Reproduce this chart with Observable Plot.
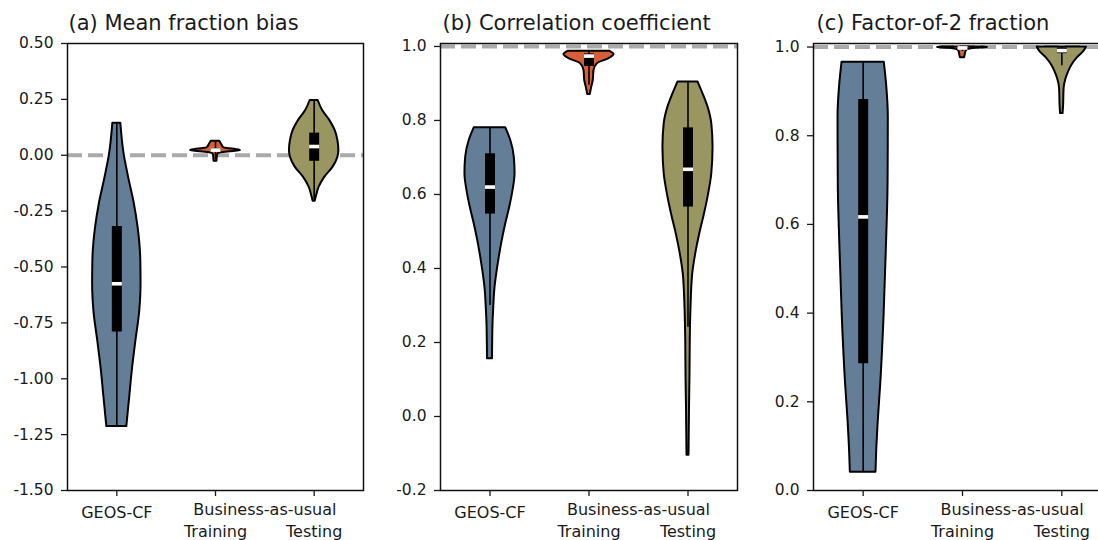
<!DOCTYPE html>
<html><head><meta charset="utf-8">
<script src="https://cdn.jsdelivr.net/npm/d3@7"></script>
<script src="https://cdn.jsdelivr.net/npm/@observablehq/plot@0.6"></script>
<style>
html,body{margin:0;padding:0;background:#fff;overflow:hidden;}
#wrap{position:relative;width:1098px;height:540px;overflow:hidden;}
#wrap svg{position:absolute;top:0;overflow:visible;}
</style></head><body><div id="wrap"></div>
<script>
// ---- categories / labels ----
const groups = ["GEOS-CF", "Training", "Testing"];
const groupLabel = "Business-as-usual";
const colors = ["#647e97", "#d65f3a", "#9a9662"];
const titles = ["(a) Mean fraction bias", "(b) Correlation coefficient", "(c) Factor-of-2 fraction"];

// ---- tick labels ----
const mfbTicks = [-1.5, -1.25, -1.0, -0.75, -0.5, -0.25, 0.0, 0.25, 0.5];
const corTicks = [-0.2, 0.0, 0.2, 0.4, 0.6, 0.8, 1.0];
const fac2Ticks = [0.0, 0.2, 0.4, 0.6, 0.8, 1.0];

// ---- (a) mean fraction bias: violin profiles (value, relative density) ----
const mfbGeosV = [-1.214, -1.067, -0.963, -0.843, -0.695, -0.575, -0.471, -0.322, -0.217, -0.098, 0.006, 0.143];
const mfbGeosD = [0.40, 0.53, 0.62, 0.75, 0.92, 0.97, 0.96, 0.85, 0.70, 0.47, 0.29, 0.16];
const mfbTrainV = [-0.027, -0.01, 0.0, 0.008, 0.013, 0.018, 0.021, 0.025, 0.03, 0.035, 0.044, 0.063];
const mfbTrainD = [0.06, 0.07, 0.08, 0.12, 0.40, 0.80, 1.0, 0.84, 0.48, 0.32, 0.27, 0.17];
const mfbTestV = [-0.206, -0.18, -0.143, -0.098, -0.053, -0.009, 0.021, 0.066, 0.111, 0.155, 0.200, 0.245];
const mfbTestD = [0.04, 0.10, 0.20, 0.43, 0.76, 0.95, 0.99, 0.95, 0.84, 0.63, 0.34, 0.16];
// box stats per group
const mfbQ1 = [-0.791, 0.017, -0.027];
const mfbMed = [-0.575, 0.023, 0.039];
const mfbQ3 = [-0.319, 0.029, 0.099];
const mfbLo = [-1.214, -0.02, -0.206];
const mfbHi = [0.143, 0.06, 0.245];

// ---- (b) correlation coefficient ----
const corGeosV = [0.156, 0.250, 0.295, 0.341, 0.386, 0.430, 0.476, 0.521, 0.566, 0.611, 0.656, 0.701, 0.746, 0.780];
const corGeosD = [0.10, 0.12, 0.15, 0.19, 0.27, 0.37, 0.49, 0.63, 0.79, 0.92, 1.0, 0.97, 0.83, 0.63];
const corTrainV = [0.870, 0.890, 0.908, 0.935, 0.953, 0.967, 0.978, 0.987];
const corTrainD = [0.05, 0.11, 0.17, 0.20, 0.33, 0.80, 1.0, 0.84];
const corTestV = [-0.105, 0.025, 0.115, 0.205, 0.295, 0.386, 0.440, 0.494, 0.539, 0.593, 0.656, 0.728, 0.791, 0.836, 0.872, 0.904];
const corTestD = [0.04, 0.06, 0.08, 0.09, 0.12, 0.19, 0.31, 0.47, 0.63, 0.80, 0.95, 1.0, 0.95, 0.80, 0.60, 0.40];
const corQ1 = [0.547, 0.946, 0.566];
const corMed = [0.620, 0.974, 0.668];
const corQ3 = [0.710, 0.980, 0.780];
const corLo = [0.300, 0.895, 0.241];
const corHi = [0.780, 0.987, 0.904];

// ---- (c) factor-of-2 fraction ----
const fac2GeosV = [0.041, 0.09, 0.165, 0.241, 0.391, 0.541, 0.692, 0.842, 0.917, 0.966];
const fac2GeosD = [0.51, 0.54, 0.61, 0.70, 0.83, 0.92, 0.99, 1.0, 0.93, 0.84];
const fac2TrainV = [0.976, 0.98, 0.99, 0.994, 0.997, 0.999, 1.0];
const fac2TrainD = [0.08, 0.10, 0.14, 0.20, 0.55, 1.0, 0.8];
const fac2TestV = [0.850, 0.869, 0.907, 0.929, 0.944, 0.959, 0.9745, 0.9895, 1.0];
const fac2TestD = [0.05, 0.07, 0.09, 0.17, 0.27, 0.40, 0.60, 0.87, 0.98];
const fac2Q1 = [0.286, 0.996, 0.985];
const fac2Med = [0.617, 0.998, 0.992];
const fac2Q3 = [0.882, 0.999, 0.998];
const fac2Lo = [0.041, 0.990, 0.958];
const fac2Hi = [0.966, 1.0, 1.0];

// ---- drawing ----
const FONT = "DejaVu Sans";
const HALF = 0.253; // max violin half-width in category units
const medianSymbol = { draw(ctx) { ctx.rect(-5, -1.8, 10, 3.6); } };

function panel(cfg) {
  const violins = cfg.profiles.map(([vs, ds], i) =>
    Plot.areaX(vs.map((v, k) => ({v, d: ds[k], pos: i})), {
      y: "v",
      x1: r => r.pos - r.d * HALF,
      x2: r => r.pos + r.d * HALF,
      fill: colors[i], stroke: "black", strokeWidth: 2,
      curve: "monotone-y"
    })
  );
  const stats = groups.map((g, i) => ({
    pos: i, q1: cfg.q1[i], med: cfg.med[i], q3: cfg.q3[i], lo: cfg.lo[i], hi: cfg.hi[i]
  }));
  return Plot.plot({
    width: cfg.width, height: 540,
    marginLeft: cfg.ml, marginRight: cfg.mr, marginTop: 43, marginBottom: 50,
    style: {fontFamily: FONT, color: "#1a1a1a", background: "transparent", overflow: "visible"},
    x: {domain: [-0.5, 2.5]},
    y: {domain: cfg.ydomain},
    marks: [
      Plot.ruleY([cfg.ref], {stroke: "#aaaaaa", strokeWidth: 4, strokeDasharray: "15,6"}),
      ...violins,
      Plot.ruleX(stats, {x: "pos", y1: "lo", y2: "hi", stroke: "black", strokeWidth: 1.6}),
      Plot.ruleX(stats, {x: "pos", y1: "q1", y2: "q3", stroke: "black", strokeWidth: 10}),
      Plot.dot(stats, {x: "pos", y: "med", symbol: medianSymbol, fill: "white", stroke: null}),
      Plot.frame({stroke: "#111", strokeWidth: 1.5}),
      Plot.axisY({ticks: cfg.ticks, tickSize: 6, tickPadding: 8, fontSize: 15.5,
        tickFormat: d => d.toFixed(cfg.digits), strokeWidth: 1.3}),
      Plot.axisX({ticks: [0, 1, 2], tickSize: 6, tickFormat: () => "", strokeWidth: 1.3, label: null}),
      Plot.text([groups[0]], {x: [0], text: d => d, frameAnchor: "bottom", lineAnchor: "middle", dy: 22, fontSize: 16}),
      Plot.text(groups.slice(1), {x: [1, 2], text: d => d, frameAnchor: "bottom", lineAnchor: "middle", dy: 41, fontSize: 16}),
      Plot.text([groupLabel], {x: [1.5], text: d => d, frameAnchor: "bottom", lineAnchor: "middle", dy: 19, fontSize: 16}),
      Plot.text([cfg.title], {frameAnchor: "top-left", textAnchor: "start", lineAnchor: "middle", dy: -20.5, dx: cfg.tdx, fontSize: 21})
    ]
  });
}

const wrap = document.getElementById("wrap");
const panels = [
  {left: 0, width: 370, ml: 67, mr: 7, ydomain: [-1.5, 0.5], ref: 0, ticks: mfbTicks, digits: 2, title: titles[0], tdx: 1,
   profiles: [[mfbGeosV, mfbGeosD], [mfbTrainV, mfbTrainD], [mfbTestV, mfbTestD]],
   q1: mfbQ1, med: mfbMed, q3: mfbQ3, lo: mfbLo, hi: mfbHi},
  {left: 370, width: 370, ml: 70, mr: 3, ydomain: [-0.2, 1.008], ref: 1, ticks: corTicks, digits: 1, title: titles[1], tdx: 2,
   profiles: [[corGeosV, corGeosD], [corTrainV, corTrainD], [corTestV, corTestD]],
   q1: corQ1, med: corMed, q3: corQ3, lo: corLo, hi: corHi},
  {left: 740, width: 371, ml: 73, mr: 0, ydomain: [0, 1.008], ref: 1, ticks: fac2Ticks, digits: 1, title: titles[2], tdx: 3,
   profiles: [[fac2GeosV, fac2GeosD], [fac2TrainV, fac2TrainD], [fac2TestV, fac2TestD]],
   q1: fac2Q1, med: fac2Med, q3: fac2Q3, lo: fac2Lo, hi: fac2Hi}
];
for (const p of panels) {
  const svg = panel(p);
  svg.style.left = p.left + "px";
  wrap.appendChild(svg);
}
</script></body></html>
